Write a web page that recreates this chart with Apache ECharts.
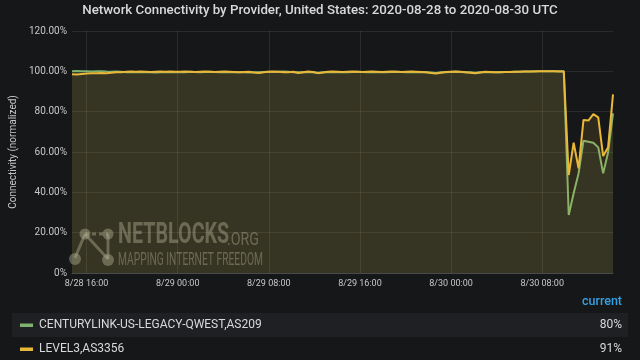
<!DOCTYPE html>
<html><head><meta charset="utf-8">
<script src="https://cdn.jsdelivr.net/npm/echarts@6/dist/echarts.min.js"></script>
<style>html,body{margin:0;padding:0;background:#161719;}#c{width:640px;height:360px;}</style>
</head><body><div id="c"></div>
<script>
// Hours since 2020-08-28 00:00 UTC
const startHour = 14.72;
const stepHour = 0.4318;
const xTickHours = [16, 24, 32, 40, 48, 56];
const yTicks = [0, 20, 40, 60, 80, 100, 120];
const seriesNames = ['CENTURYLINK-US-LEGACY-QWEST,AS209', 'LEVEL3,AS3356'];
const currentValues = ['80%', '91%'];
const centurylink = [
  100.1,100.2,100.0,100.1,99.9,100.0,100.1,99.9,99.8,99.9,99.8,
  99.6,99.5,99.6,99.5,99.6,99.5,99.4,99.5,99.6,99.5,99.6,
  99.7,99.6,99.8,99.7,99.6,99.7,99.8,99.7,99.6,99.5,99.6,99.7,99.6,99.5,99.4,99.5,99.6,99.7,99.8,99.7,99.8,
  99.9,99.8,99.6,99.5,99.6,99.7,99.6,99.3,99.5,99.6,99.7,99.6,99.5,99.6,99.7,99.8,99.7,99.6,99.5,99.6,99.7,
  99.6,99.7,99.8,99.7,99.6,99.5,99.6,99.7,99.6,99.4,99.2,99.5,99.6,99.7,99.8,99.7,99.6,99.5,99.3,99.5,99.6,
  99.5,99.6,99.6,99.7,99.7,99.8,99.8,99.9,99.9,100.0,100.0,100.0,100.1,100.1,100.1,100.0,
  28.8,39.5,49.4,65.6,65.1,64.6,62.3,49.4,59.7,79.2
];
const level3 = [
  98.6,98.4,98.7,98.9,99.0,99.1,99.2,99.1,99.3,99.5,99.6,
  99.8,99.9,99.8,99.9,99.8,99.7,99.8,99.9,99.8,99.9,99.8,
  99.8,99.9,99.8,99.7,99.8,99.9,99.8,99.7,99.8,99.9,99.8,99.7,99.6,99.7,99.8,99.4,99.2,99.5,99.8,99.9,99.8,
  99.5,99.6,99.8,99.2,99.6,99.9,99.7,99.1,99.4,99.8,99.9,99.8,99.7,99.8,99.9,99.8,99.7,99.8,99.9,99.8,99.7,
  99.8,99.9,99.8,99.7,99.8,99.9,99.8,99.7,99.6,99.2,98.9,99.3,99.7,99.8,99.9,99.8,99.6,99.3,99.0,99.4,99.8,
  99.7,99.6,99.6,99.7,99.7,99.8,99.8,99.9,99.9,99.9,100.0,100.0,100.0,100.0,99.9,99.9,
  48.6,64.6,51.9,75.9,75.6,78.8,77.2,58.0,62.3,88.6
];
const colors = ['#7EB26D', '#EAB839'];

function pairs(arr){ return arr.map((v,i)=>[startHour + i*stepHour, v]); }
function fmtX(h){
  const day = 28 + Math.floor(h/24);
  const hh = h % 24;
  return '8/' + day + ' ' + String(hh).padStart(2,'0') + ':00';
}

const chart = echarts.init(document.getElementById('c'), null, {renderer:'canvas'});
const gridColor = 'rgba(255,255,255,0.09)';
const wmColor = 'rgba(170,170,160,0.45)';
const legendRows = [325, 349];
const legendGraphics = [
  {type:'rect', z:-1, shape:{x:12, y:313, width:616, height:24}, style:{fill:'#1f2023'}},
  {type:'text', x:622, y:302, style:{text:'current', fill:'#33a2e5', font:'500 12.5px Roboto', textAlign:'right', textVerticalAlign:'middle'}}
];
seriesNames.forEach((n,i)=>{
  legendGraphics.push({type:'rect', shape:{x:20, y:legendRows[i]-1.5, width:13, height:3.5}, style:{fill:colors[i]}});
  legendGraphics.push({type:'text', x:39, y:legendRows[i], style:{text:n, fill:'#d8d9da', font:'12px Roboto', textVerticalAlign:'middle'}});
  legendGraphics.push({type:'text', x:622, y:legendRows[i], style:{text:currentValues[i], fill:'#d8d9da', font:'12px Roboto', textAlign:'right', textVerticalAlign:'middle'}});
});

chart.setOption({
  backgroundColor: '#161719',
  animation: false,
  title: {
    text: 'Network Connectivity by Provider, United States: 2020-08-28 to 2020-08-30 UTC',
    left: 'center', top: -1,
    textStyle: {color:'#d8d9da', fontSize:13.3, fontWeight:500, fontFamily:'Roboto'}
  },
  grid: {left:62, right:27, top:31, bottom:87},
  xAxis: {
    type:'value', min:startHour, max:startHour + 110*stepHour,
    axisLine:{show:true, lineStyle:{color:'rgba(255,255,255,0.15)'}},
    axisTick:{show:false, customValues:xTickHours},
    axisLabel:{customValues:xTickHours, formatter:fmtX, color:'#c7c7c7', fontSize:9, fontFamily:'Roboto', margin:6},
    splitLine:{show:true, lineStyle:{color:gridColor, width:1}}
  },
  yAxis: {
    type:'value', min:0, max:120, interval:20,
    name:'Connectivity (normalized)', nameLocation:'middle', nameGap:43,
    nameTextStyle:{color:'#c7c7c7', fontSize:10, fontFamily:'Roboto'},
    axisLine:{show:false}, axisTick:{show:false},
    axisLabel:{formatter:v=> v===0 ? '0%' : v.toFixed(2)+'%', color:'#c7c7c7', fontSize:10, fontFamily:'Roboto', margin:5},
    splitLine:{show:true, lineStyle:{color:gridColor, width:1}}
  },
  series: [
    {name:seriesNames[0], type:'line', data:pairs(centurylink), showSymbol:false, symbol:'none',
     lineStyle:{color:colors[0], width:2}, itemStyle:{color:colors[0]},
     areaStyle:{color:colors[0], opacity:0.08}, z:3},
    {name:seriesNames[1], type:'line', data:pairs(level3), showSymbol:false, symbol:'none',
     lineStyle:{color:colors[1], width:2}, itemStyle:{color:colors[1]},
     areaStyle:{color:colors[1], opacity:0.12}, z:4}
  ],
  graphic: legendGraphics.concat([
    {type:'group', z:1, children:[
      {type:'line', shape:{x1:85, y1:234, x2:108, y2:234}, style:{stroke:wmColor, lineWidth:3, lineDash:[4,3]}},
      {type:'line', shape:{x1:85, y1:234, x2:75, y2:258}, style:{stroke:wmColor, lineWidth:3}},
      {type:'line', shape:{x1:85, y1:234, x2:108, y2:259}, style:{stroke:wmColor, lineWidth:3}},
      {type:'line', shape:{x1:108, y1:234, x2:108, y2:259}, style:{stroke:wmColor, lineWidth:3}},
      {type:'circle', shape:{cx:85, cy:234, r:5.5}, style:{fill:wmColor}},
      {type:'circle', shape:{cx:108, cy:234, r:5.5}, style:{fill:wmColor}},
      {type:'circle', shape:{cx:75, cy:259, r:6}, style:{fill:wmColor}},
      {type:'circle', shape:{cx:108, cy:260, r:6}, style:{fill:wmColor}},
      {type:'text', x:118, y:250, scaleX:0.68, style:{text:'NETBLOCKS', fill:wmColor, font:'bold 29px Roboto', textVerticalAlign:'bottom'}},
      {type:'text', x:227, y:250, scaleX:0.75, style:{text:'.ORG', fill:wmColor, font:'19px Roboto', textVerticalAlign:'bottom'}},
      {type:'text', x:118, y:269, scaleX:0.57, style:{text:'MAPPING INTERNET FREEDOM', fill:wmColor, font:'18px Roboto', textVerticalAlign:'bottom'}}
    ]}
  ])
});
</script>
</body></html>
